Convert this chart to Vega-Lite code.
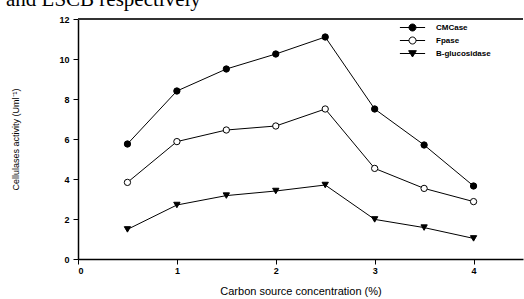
{
  "$schema": "https://vega.github.io/schema/vega-lite/v6.json",
  "width": 445,
  "height": 240,
  "autosize": "none",
  "padding": {"left": 78, "top": 19, "right": 1, "bottom": 40},
  "background": "white",
  "title": {
    "text": "and LSCB  respectively",
    "font": "Liberation Serif",
    "fontSize": 21,
    "fontWeight": "normal",
    "color": "black",
    "anchor": "start",
    "frame": "group",
    "dx": -72,
    "dy": 12,
    "baseline": "alphabetic",
    "offset": 0
  },
  "data": {
    "values": [
      {"c": 0.5, "series": "CMCase", "v": 5.75},
      {"c": 1.0, "series": "CMCase", "v": 8.4},
      {"c": 1.5, "series": "CMCase", "v": 9.5},
      {"c": 2.0, "series": "CMCase", "v": 10.25},
      {"c": 2.5, "series": "CMCase", "v": 11.1},
      {"c": 3.0, "series": "CMCase", "v": 7.5},
      {"c": 3.5, "series": "CMCase", "v": 5.7},
      {"c": 4.0, "series": "CMCase", "v": 3.65},
      {"c": 0.5, "series": "Fpase", "v": 3.83},
      {"c": 1.0, "series": "Fpase", "v": 5.87},
      {"c": 1.5, "series": "Fpase", "v": 6.45},
      {"c": 2.0, "series": "Fpase", "v": 6.65},
      {"c": 2.5, "series": "Fpase", "v": 7.5},
      {"c": 3.0, "series": "Fpase", "v": 4.53},
      {"c": 3.5, "series": "Fpase", "v": 3.53},
      {"c": 4.0, "series": "Fpase", "v": 2.87},
      {"c": 0.5, "series": "B-glucosidase", "v": 1.48},
      {"c": 1.0, "series": "B-glucosidase", "v": 2.7},
      {"c": 1.5, "series": "B-glucosidase", "v": 3.17},
      {"c": 2.0, "series": "B-glucosidase", "v": 3.4},
      {"c": 2.5, "series": "B-glucosidase", "v": 3.7},
      {"c": 3.0, "series": "B-glucosidase", "v": 1.98},
      {"c": 3.5, "series": "B-glucosidase", "v": 1.57},
      {"c": 4.0, "series": "B-glucosidase", "v": 1.03}
    ]
  },
  "encoding": {
    "x": {
      "field": "c",
      "type": "quantitative",
      "scale": {"domain": [0, 4.5], "nice": false},
      "axis": {
        "values": [0, 1, 2, 3, 4],
        "title": "Carbon source concentration (%)",
        "grid": false,
        "domainColor": "black",
        "domainWidth": 1.5,
        "tickColor": "black",
        "tickSize": 5,
        "labelFont": "Liberation Sans",
        "labelFontSize": 9,
        "labelFontWeight": "bold",
        "labelColor": "black",
        "labelPadding": 2,
        "titleFont": "Liberation Sans",
        "titleFontSize": 11,
        "titleFontWeight": "normal",
        "titleColor": "black",
        "titlePadding": 10
      }
    },
    "y": {
      "field": "v",
      "type": "quantitative",
      "scale": {"domain": [0, 12], "nice": false},
      "axis": {
        "values": [0, 2, 4, 6, 8, 10, 12],
        "title": "Cellulases activity (Uml⁻¹)",
        "grid": false,
        "domainColor": "black",
        "domainWidth": 1.5,
        "tickColor": "black",
        "tickSize": 5,
        "labelFont": "Liberation Sans",
        "labelFontSize": 9,
        "labelFontWeight": "bold",
        "labelColor": "black",
        "labelPadding": 4,
        "titleFont": "Liberation Sans",
        "titleFontSize": 9,
        "titleFontWeight": "normal",
        "titleColor": "black",
        "titlePadding": 38
      }
    }
  },
  "layer": [
    {
      "mark": {"type": "rule", "color": "#333333", "strokeWidth": 2},
      "encoding": {"y": {"datum": 12}, "x": {"datum": 0}, "x2": {"datum": 4.5}}
    },
    {
      "mark": {"type": "line", "color": "black", "strokeWidth": 1},
      "encoding": {"detail": {"field": "series"}}
    },
    {
      "mark": {"type": "point", "filled": false, "stroke": "black", "strokeWidth": 1, "size": 40, "opacity": 1},
      "encoding": {
        "shape": {
          "field": "series",
          "scale": {"domain": ["CMCase", "Fpase", "B-glucosidase"], "range": ["circle", "circle", "triangle-down"]},
          "legend": null
        },
        "fill": {
          "field": "series",
          "scale": {"domain": ["CMCase", "Fpase", "B-glucosidase"], "range": ["black", "white", "black"]},
          "legend": null
        }
      }
    },
    {
      "transform": [{"filter": "datum.v < -100"}],
      "mark": {"type": "point", "strokeWidth": 1, "opacity": 1},
      "encoding": {
        "shape": {
          "field": "series",
          "scale": {
            "domain": ["CMCase", "Fpase", "B-glucosidase"],
            "range": [
              "M-0.5,0A0.5,0.5 0 1,0 0.5,0A0.5,0.5 0 1,0 -0.5,0Z M-1.8,0H-0.5M0.5,0H1.8",
              "M-0.5,0A0.5,0.5 0 1,0 0.5,0A0.5,0.5 0 1,0 -0.5,0Z M-1.8,0H-0.5M0.5,0H1.8",
              "M-0.55,-0.4L0.55,-0.4L0,0.5Z M-1.8,0H1.8"
            ]
          },
          "legend": {
            "title": null,
            "orient": "none",
            "legendX": 327,
            "legendY": 1,
            "symbolSize": 196,
            "symbolStrokeWidth": 1,
            "labelFont": "Liberation Sans",
            "labelFontSize": 8,
            "labelFontWeight": "bold",
            "labelColor": "black",
            "labelOffset": 16,
            "rowPadding": 0
          }
        },
        "fill": {
          "field": "series",
          "scale": {"domain": ["CMCase", "Fpase", "B-glucosidase"], "range": ["black", "white", "black"]},
          "legend": {
            "title": null,
            "orient": "none",
            "legendX": 327,
            "legendY": 1,
            "symbolSize": 196,
            "symbolStrokeWidth": 1,
            "labelFont": "Liberation Sans",
            "labelFontSize": 8,
            "labelFontWeight": "bold",
            "labelColor": "black",
            "labelOffset": 16,
            "rowPadding": 0
          }
        },
        "stroke": {
          "field": "series",
          "scale": {"domain": ["CMCase", "Fpase", "B-glucosidase"], "range": ["black", "black", "black"]},
          "legend": {
            "title": null,
            "orient": "none",
            "legendX": 327,
            "legendY": 1,
            "symbolSize": 196,
            "symbolStrokeWidth": 1,
            "labelFont": "Liberation Sans",
            "labelFontSize": 8,
            "labelFontWeight": "bold",
            "labelColor": "black",
            "labelOffset": 16,
            "rowPadding": 0
          }
        }
      }
    }
  ],
  "resolve": {"scale": {"shape": "independent", "fill": "independent", "stroke": "independent"}},
  "config": {
    "view": {"stroke": null},
    "legend": {"symbolOpacity": 1}
  }
}
